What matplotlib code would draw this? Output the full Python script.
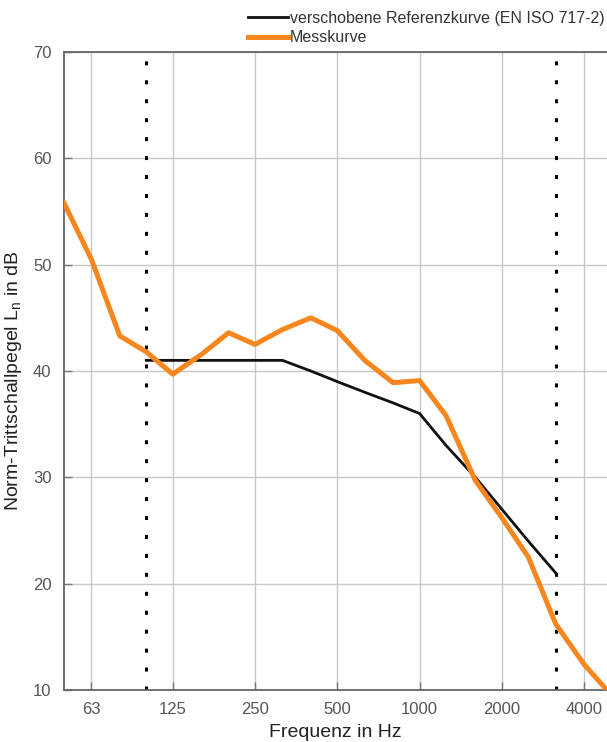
import numpy as np
import matplotlib.pyplot as plt

plt.rcParams['font.family'] = ['Liberation Sans', 'DejaVu Sans']

# third-octave band centre frequencies (Hz)
freq = [50, 63, 80, 100, 125, 160, 200, 250, 315, 400, 500, 630, 800,
        1000, 1250, 1600, 2000, 2500, 3150, 4000, 5000]
# measured curve
mess = [55.8, 50.5, 43.3, 41.8, 39.7, 41.6, 43.6, 42.5, 43.9, 45.0, 43.8,
        41.0, 38.9, 39.1, 35.8, 29.7, 26.2, 22.5, 16.2, 12.4, 9.6]
# shifted reference curve, 100 - 3150 Hz
ref_freq = [100, 125, 160, 200, 250, 315, 400, 500, 630, 800, 1000, 1250,
            1600, 2000, 2500, 3150]
ref = [41, 41, 41, 41, 41, 41, 40, 39, 38, 37, 36, 33, 30, 27, 24, 21]

oct_ticks = [63, 125, 250, 500, 1000, 2000, 4000]
range_lines = [100, 3150]

fig = plt.figure(figsize=(6.07, 7.42), dpi=100)
ax = fig.add_axes([64/607, 52/742, 543/607, 638/742])

for f in range_lines:
    ax.axvline(f, color='black', lw=2.2, ls=(0, (1.3, 4.9)), zorder=2)

ax.plot(ref_freq, ref, color='#111111', lw=2.0, zorder=3,
        label='verschobene Referenzkurve (EN ISO 717-2)')
ax.plot(freq, mess, color='#F7861E', lw=3.6, zorder=4, label='Messkurve')

ax.set_xscale('log')
ax.set_xlim(50, 4850)
ax.set_ylim(10, 70)
ax.set_xticks(oct_ticks)
ax.set_xticklabels([str(f) for f in oct_ticks])
ax.minorticks_off()
ax.set_yticks(range(10, 71, 10))

ax.grid(True, color='#c8c8c8', lw=1.0, zorder=0)
ax.set_axisbelow(True)
ax.tick_params(direction='in', length=6, width=1, color='#777777',
               labelcolor='#555555', labelsize=12)
ax.tick_params(axis='x', pad=9)
ax.tick_params(axis='y', pad=9)
for s in ['left', 'bottom', 'top']:
    ax.spines[s].set_color('#666666')
    ax.spines[s].set_linewidth(1.3)
ax.spines['right'].set_visible(False)

ax.set_xlabel('Frequenz in Hz', fontsize=14, color='#222222', labelpad=5)
ax.set_ylabel('Norm-Trittschallpegel L$_\\mathregular{n}$ in dB',
              fontsize=14, color='#222222')
ax.yaxis.set_label_coords(-0.074, 0.485)

fig.legend(loc='upper right', bbox_to_anchor=(1.02, 1.005), frameon=False,
           fontsize=11.5, handlelength=2.5, handletextpad=0.15,
           labelspacing=0.3, labelcolor='#333333')

fig.savefig('out.png', dpi=100)
